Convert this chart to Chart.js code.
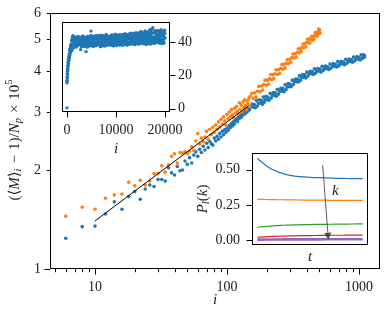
<!DOCTYPE html>
<html>
<head>
<meta charset="utf-8">
<script src="https://cdn.jsdelivr.net/npm/chart.js@4.4.1/dist/chart.umd.min.js"></script>
<style>
  html, body { margin: 0; padding: 0; background: #fff; }
  #wrap { position: relative; width: 388px; height: 322px; }
  #wrap canvas { position: absolute; }
</style>
</head>
<body>
<div id="wrap">
  <canvas id="main" width="388" height="322" style="left:0;top:0"></canvas>
  <canvas id="inset1" width="165" height="150" style="left:40px;top:10px"></canvas>
  <canvas id="inset2" width="182" height="127" style="left:190px;top:138px"></canvas>
</div>
<script>
// ---- main panel: <M>_i scaling, two runs ----
const blueI = [
  6, 8, 10, 12, 14, 16, 18, 20, 22, 24,
  26, 28, 30, 32, 34, 36, 38, 40, 42, 44,
  46, 48, 50, 52, 54, 56, 58, 60, 62, 64,
  66, 68, 70, 72, 74, 76, 78, 80, 82, 84,
  86, 88, 90, 92, 94, 96, 98, 100, 102, 104,
  106, 108, 110, 112, 114, 116, 118, 120, 122, 124,
  126, 128, 130, 132, 134, 136, 138, 140, 142, 144,
  146, 148, 150, 155, 158, 161, 164, 167, 170, 173,
  176, 179, 182, 185, 188, 191, 194, 197, 200, 204,
  208, 212, 216, 220, 224, 228, 232, 236, 240, 245,
  250, 255, 260, 265, 270, 275, 280, 285, 290, 295,
  300, 306, 312, 318, 324, 330, 336, 342, 348, 354,
  360, 367, 374, 381, 388, 395, 402, 410, 418, 426,
  434, 442, 450, 459, 468, 477, 486, 495, 505, 515,
  525, 535, 545, 556, 567, 578, 590, 602, 614, 626,
  638, 651, 664, 677, 690, 704, 718, 732, 747, 762,
  777, 792, 808, 824, 840, 857, 874, 891, 908, 926,
  944, 962, 980, 999, 1018, 1037, 1056, 1070, 1085, 1095,
  1100
];
const blueM = [
  1.24, 1.345, 1.35, 1.47, 1.60, 1.52, 1.66, 1.72, 1.63, 1.75,
  1.80, 1.78, 1.87, 1.87, 1.85, 2.03, 1.96, 1.93, 2.05, 1.99,
  2.00, 2.13, 2.08, 2.18, 2.10, 2.22, 2.27, 2.20, 2.31, 2.26,
  2.36, 2.30, 2.41, 2.34, 2.44, 2.40, 2.38, 2.50, 2.45, 2.53,
  2.48, 2.58, 2.52, 2.62, 2.56, 2.65, 2.60, 2.68, 2.64, 2.73,
  2.69, 2.77, 2.72, 2.80, 2.76, 2.83, 2.86, 2.81, 2.90, 2.87,
  2.93, 2.89, 2.97, 2.94, 3.00, 2.96, 3.03, 2.99, 3.06, 3.02,
  3.09, 3.05, 3.11, 3.17, 3.10, 3.16, 3.09, 3.25, 3.13, 3.19,
  3.27, 3.19, 3.25, 3.17, 3.33, 3.21, 3.27, 3.35, 3.27, 3.33,
  3.26, 3.42, 3.31, 3.37, 3.44, 3.37, 3.43, 3.35, 3.52, 3.40,
  3.47, 3.54, 3.47, 3.54, 3.46, 3.63, 3.51, 3.58, 3.66, 3.58,
  3.65, 3.58, 3.75, 3.64, 3.71, 3.78, 3.71, 3.78, 3.70, 3.87,
  3.75, 3.82, 3.90, 3.82, 3.89, 3.81, 3.97, 3.86, 3.92, 3.99,
  3.92, 3.98, 3.90, 4.06, 3.94, 4.00, 4.07, 3.99, 4.05, 3.97,
  4.13, 4.01, 4.07, 4.14, 4.06, 4.12, 4.04, 4.20, 4.08, 4.14,
  4.21, 4.13, 4.19, 4.11, 4.27, 4.15, 4.21, 4.28, 4.20, 4.26,
  4.18, 4.34, 4.22, 4.28, 4.35, 4.27, 4.33, 4.25, 4.41, 4.29,
  4.35, 4.42, 4.34, 4.40, 4.32, 4.48, 4.36, 4.42, 4.48, 4.40,
  4.45
];
const orangeI = [
  6, 8, 10, 12, 14, 16, 18, 20, 22, 24,
  26, 28, 30, 32, 34, 36, 38, 40, 42, 44,
  46, 48, 50, 52, 54, 56, 58, 60, 62, 64,
  66, 68, 70, 72, 74, 76, 78, 80, 82, 84,
  86, 88, 90, 92, 94, 96, 98, 100, 102, 104,
  106, 108, 110, 112, 114, 116, 118, 120, 122, 124,
  126, 128, 130, 132, 134, 136, 138, 140, 142, 144,
  146, 148, 150, 154, 158, 162, 166, 170, 174, 178,
  182, 186, 190, 194, 198, 202, 206, 210, 214, 218,
  222, 226, 230, 235, 240, 245, 250, 255, 260, 265,
  270, 275, 280, 286, 292, 298, 304, 310, 316, 322,
  328, 334, 340, 346, 352, 358, 364, 370, 376, 382,
  388, 394, 400, 406, 412, 418, 424, 430, 436, 442,
  448, 454, 460, 466, 472, 478, 484, 490, 494, 498,
  502, 505
];
const orangeM = [
  1.446, 1.54, 1.52, 1.64, 1.68, 1.69, 1.835, 1.79, 1.86, 1.80,
  1.85, 1.95, 1.95, 2.06, 1.97, 2.07, 2.20, 2.24, 2.10, 2.26,
  2.25, 2.27, 2.24, 2.28, 2.35, 2.29, 2.45, 2.58, 2.40, 2.50,
  2.44, 2.52, 2.62, 2.48, 2.66, 2.56, 2.70, 2.60, 2.74, 2.66,
  2.80, 2.70, 2.85, 2.76, 2.90, 2.82, 2.74, 2.95, 2.86, 3.00,
  2.91, 3.05, 2.94, 2.88, 3.08, 2.98, 3.12, 3.02, 2.96, 3.20,
  3.06, 3.15, 3.00, 3.22, 3.10, 3.27, 3.14, 3.05, 3.24, 3.18,
  3.30, 3.12, 3.35, 3.42, 3.30, 3.43, 3.33, 3.47, 3.59, 3.46,
  3.60, 3.50, 3.64, 3.75, 3.62, 3.75, 3.65, 3.79, 3.90, 3.76,
  3.89, 3.79, 3.92, 4.03, 3.90, 4.03, 3.93, 4.07, 4.18, 4.05,
  4.18, 4.08, 4.22, 4.33, 4.21, 4.34, 4.25, 4.39, 4.50, 4.38,
  4.51, 4.41, 4.56, 4.67, 4.54, 4.67, 4.58, 4.72, 4.83, 4.71,
  4.84, 4.74, 4.88, 4.99, 4.87, 5.00, 4.86, 4.99, 5.10, 4.96,
  5.09, 4.99, 5.13, 5.23, 5.10, 5.22, 5.12, 5.26, 5.36, 5.21,
  5.33, 5.21
];
const fitI = [10, 145];
const fitM = [1.40, 3.13];
const mainXMajor = [10, 100, 1000];
const mainXMinor = [5, 6, 7, 8, 9, 20, 30, 40, 50, 60, 70, 80, 90, 200, 300, 400, 500, 600, 700, 800, 900];
const mainYTicks = [1, 2, 3, 4, 5, 6];

// ---- upper inset: <M>_i over the whole run ----
const runEarlyI = [0, 10, 25, 40, 55, 70, 90, 110, 130, 150, 175, 200, 230, 260, 300, 340, 380, 420, 460, 500,
  550, 600, 650, 700, 750, 800, 850, 900, 950, 1000, 1050, 1100, 1150, 1200, 1250, 1300, 1350, 1400];
const runEarlyM = [0.4, 15.5, 17, 19, 16.5, 21, 18.5, 22.5, 24, 20.5, 26, 23.5, 28, 25.5, 30, 27, 31.5, 29, 33, 30.5,
  35, 32, 36.5, 33.5, 38, 34.5, 39, 36, 41, 35, 42, 37, 43.5, 38.5, 44, 36.5, 42, 39.5];
const runStep = 100;
const runLateStart = 1500;   // samples at 1500, 1600, ... 20000
const runLateM = [
  40.3, 38.1, 42.7, 39.4, 37.2, 41.8, 40.6, 43.5, 38.8, 41.1,
  42.4, 39.7, 41.5, 35.6, 40.2, 38.3, 42.9, 40.8, 43.8, 39.1,
  37.5, 41.6, 40.1, 42.8, 34.4, 41.3, 38.6, 43.6, 39.5, 42.2,
  40.7, 37.8, 42.5, 41.2, 46.8, 39.3, 43.9, 38.4, 41.9, 37.6,
  41.4, 43.7, 39.2, 42.1, 37.9, 42.6, 40.4, 44.2, 38.5, 41.7,
  42.9, 39.6, 41.8, 37.4, 43.5, 40.2, 42.7, 38.3, 41.1, 44.1,
  39.3, 42.2, 37.7, 43.8, 40.6, 44.7, 38.2, 41.4, 42.9, 39.8,
  41.9, 38.4, 43.6, 40.1, 42.8, 38.9, 41.3, 44.4, 39.2, 42.5,
  37.8, 42.7, 40.5, 44.9, 39.4, 41.6, 38.1, 43.7, 40.9, 38.6,
  42.8, 40.3, 44.6, 38.4, 42.1, 39.5, 43.9, 41.2, 38.2, 44.8,
  40.6, 43.1, 38.7, 41.9, 45.2, 39.4, 41.5, 44.1, 38.3, 42.4,
  44.7, 39.6, 42.8, 40.2, 45.6, 38.9, 41.7, 43.9, 39.3, 41.2,
  45.5, 40.4, 42.9, 38.6, 44.2, 41.1, 45.8, 39.7, 42.3, 44.6,
  38.8, 42.6, 45.9, 40.5, 43.8, 39.2, 46.6, 41.9, 39.4, 44.8,
  41.3, 45.7, 39.1, 43.6, 46.9, 40.2, 42.8, 38.7, 44.9, 41.6,
  46.4, 39.5, 43.7, 41.2, 47.6, 38.9, 44.5, 42.3, 47.8, 40.4,
  48.9, 42.7, 39.3, 45.8, 41.1, 46.7, 43.6, 39.8, 46.9, 42.2,
  44.6, 40.3, 46.8, 42.9, 39.4, 45.7, 41.3, 47.6, 43.8, 39.2,
  46.5, 41.8, 44.7, 39.6, 47.3, 42.6
];
const runMidStart = 1550;    // samples at 1550, 1650, ... 19950
const runMidM = [
  41.5, 39.2, 43.1, 38.0, 40.9, 42.4, 37.9, 41.7, 39.9, 43.3,
  38.7, 41.2, 40.5, 42.0, 37.3, 43.4, 39.0, 41.9, 38.6, 42.6,
  40.0, 43.0, 38.3, 41.0, 39.7, 42.9, 37.1, 40.8, 43.2, 38.9,
  42.3, 39.9, 41.1, 44.0, 38.1, 42.0, 40.7, 37.7, 43.4, 40.2,
  38.8, 41.9, 43.9, 39.5, 42.4, 40.0, 38.6, 42.9, 40.8, 43.6,
  40.1, 42.6, 38.4, 44.3, 39.9, 41.6, 37.8, 43.0, 40.5, 42.1,
  43.2, 38.5, 41.8, 39.4, 42.9, 40.3, 44.0, 39.0, 42.4, 40.7,
  38.6, 43.5, 39.8, 42.3, 40.9, 44.1, 38.2, 42.0, 40.4, 43.3,
  41.0, 38.9, 43.9, 40.2, 42.6, 39.1, 44.4, 41.3, 39.6, 42.8,
  39.4, 43.7, 41.1, 39.9, 44.5, 40.6, 42.2, 38.6, 43.4, 41.0,
  43.8, 39.2, 42.7, 40.8, 38.9, 44.0, 41.9, 39.5, 43.6, 40.1,
  42.2, 44.4, 39.0, 43.1, 41.4, 39.8, 44.8, 40.7, 42.9, 39.3,
  43.5, 41.0, 39.6, 44.9, 42.1, 40.3, 43.9, 41.5, 39.7, 45.2,
  42.0, 40.1, 44.3, 41.7, 39.5, 45.4, 42.6, 40.6, 44.0, 41.3,
  43.9, 40.0, 45.1, 42.4, 39.9, 44.6, 41.8, 46.0, 40.5, 43.4,
  42.1, 45.3, 40.8, 44.2, 39.7, 46.1, 42.9, 41.0, 45.5, 43.2,
  40.6, 45.9, 43.0, 41.4, 47.0, 40.1, 44.4, 42.6, 45.2, 41.7,
  43.5, 47.1, 40.9, 44.8, 42.1, 46.3, 40.5, 44.0, 45.9, 41.6,
  44.3, 40.8, 46.6, 43.1, 45.4
];
const inset1XTicks = [0, 10000, 20000];
const inset1YTicks = [0, 20, 40];

// ---- lower inset: P_l(k) against t ----
const pT = [0, 5, 10, 15, 20, 25, 30, 40, 50, 60, 70, 80, 90, 100];
const pK1 = [0.582, 0.550, 0.522, 0.500, 0.484, 0.472, 0.463, 0.452, 0.447, 0.444, 0.441, 0.439, 0.438, 0.437];
const pK2 = [0.290, 0.290, 0.289, 0.289, 0.288, 0.288, 0.287, 0.286, 0.285, 0.285, 0.284, 0.284, 0.283, 0.283];
const pK3 = [0.093, 0.097, 0.100, 0.103, 0.105, 0.107, 0.108, 0.110, 0.112, 0.113, 0.114, 0.115, 0.116, 0.117];
const pK4 = [0.022, 0.024, 0.026, 0.028, 0.029, 0.030, 0.031, 0.033, 0.034, 0.035, 0.036, 0.036, 0.037, 0.037];
const pK5 = [0.005, 0.005, 0.006, 0.006, 0.006, 0.007, 0.007, 0.007, 0.007, 0.007, 0.008, 0.008, 0.008, 0.008];
const inset2YTicks = [0, 0.25, 0.5];
const arrowFrom = [62, 0.533];
const arrowTo = [67.4, 0.005];
const kLabelAt = [74, 0.35];

const BLUE = '#1f77b4', ORANGE = '#ff7f0e', GREEN = '#2ca02c', RED = '#d62728', PURPLE = '#9467bd';
const SERIF = '"Liberation Serif", "DejaVu Serif", serif';
const INK = '#1a1a1a';

const pts = (xs, ys) => xs.map((x, k) => ({ x: x, y: ys[k] }));

// rich text: [text, style] pieces, numbers are extra gaps in px
function textRun(ctx, parts, size, x0, draw) {
  let x = x0;
  parts.forEach(p => {
    if (typeof p === 'number') { x += p; return; }
    const [t, st] = p;
    const small = st === 'sub' || st === 'sup';
    const fs = small ? size * 0.7 : size;
    ctx.font = (st === 'i' || st === 'sub' ? 'italic ' : '') + fs + 'px ' + SERIF;
    const dy = st === 'sub' ? size * 0.22 : st === 'sup' ? -size * 0.38 : 0;
    if (draw) ctx.fillText(t, x, dy);
    x += ctx.measureText(t).width;
  });
  return x - x0;
}

function drawTitle(ctx, t) {
  ctx.save();
  ctx.translate(t.x, t.y);
  if (t.rot) ctx.rotate(-Math.PI / 2);
  ctx.fillStyle = INK;
  ctx.textBaseline = 'middle';
  ctx.textAlign = 'left';
  const w = textRun(ctx, t.parts, t.size, 0, false);
  textRun(ctx, t.parts, t.size, -w / 2, true);
  ctx.restore();
}

// frame, matplotlib-like tick marks, titles and extras
function decor(cfg) {
  return {
    id: 'decor',
    beforeDraw(chart) {
      const { ctx, chartArea: a } = chart;
      ctx.save();
      ctx.fillStyle = '#fff';
      ctx.fillRect(a.left, a.top, a.right - a.left, a.bottom - a.top);
      ctx.restore();
    },
    afterDatasetsDraw(chart) {
      const { ctx, chartArea: a } = chart;
      ctx.save();
      ctx.strokeStyle = '#000';
      ctx.lineWidth = 1;
      ctx.strokeRect(Math.round(a.left) + 0.5, Math.round(a.top) + 0.5,
        Math.round(a.right - a.left) - 1, Math.round(a.bottom - a.top) - 1);
      cfg.marks.forEach(m => {
        const s = chart.scales[m.scale];
        m.values.forEach(v => {
          const p = Math.round(s.getPixelForValue(v)) + 0.5;
          ctx.beginPath();
          if (s.position === 'bottom') { ctx.moveTo(p, a.bottom); ctx.lineTo(p, a.bottom + m.len); }
          else if (s.position === 'left') { ctx.moveTo(a.left, p); ctx.lineTo(a.left - m.len, p); }
          else { ctx.moveTo(a.right, p); ctx.lineTo(a.right + m.len, p); }
          ctx.stroke();
        });
      });
      ctx.restore();
      if (cfg.extra) cfg.extra(chart);
      cfg.titles(a).forEach(t => drawTitle(ctx, t));
    }
  };
}

function axisOpts(extra) {
  return Object.assign({
    grid: { drawOnChartArea: false, drawTicks: true, tickLength: 5.5, tickColor: 'rgba(0,0,0,0)' },
    border: { display: false },
  }, extra);
}
const tickFont = { family: SERIF, size: 14 };
const base = {
  responsive: false,
  animation: false,
  events: [],
  plugins: { legend: { display: false }, tooltip: { enabled: false } },
};

// main chart
new Chart(document.getElementById('main'), {
  type: 'scatter',
  data: {
    datasets: [
      { data: pts(fitI, fitM), showLine: true, borderColor: '#000', borderWidth: 1, pointRadius: 0, order: 0 },
      { data: pts(orangeI, orangeM), backgroundColor: ORANGE, borderWidth: 0, pointRadius: 1.8, order: 1 },
      { data: pts(blueI, blueM), backgroundColor: BLUE, borderWidth: 0, pointRadius: 1.8, order: 2 },
    ]
  },
  options: Object.assign({}, base, {
    layout: { padding: { top: 13, right: 8, left: 0, bottom: 0 } },
    scales: {
      x: axisOpts({
        type: 'logarithmic', min: 4.56, max: 1440,
        afterFit: s => { s.height = 53; },
        afterBuildTicks: s => { s.ticks = mainXMajor.map(v => ({ value: v })); },
        ticks: { font: tickFont, color: INK, padding: 4.5, maxRotation: 0, autoSkip: false, callback: v => String(v) },
      }),
      y: axisOpts({
        type: 'logarithmic', min: 1, max: 6,
        afterFit: s => { s.width = 50; },
        afterBuildTicks: s => { s.ticks = mainYTicks.map(v => ({ value: v })); },
        ticks: { font: tickFont, color: INK, padding: 3.5, autoSkip: false, callback: v => String(v) },
      }),
    }
  }),
  plugins: [decor({
    marks: [
      { scale: 'x', values: mainXMajor, len: 5.5 },
      { scale: 'x', values: mainXMinor, len: 3.2 },
      { scale: 'y', values: [1], len: 5.5 },
      { scale: 'y', values: [2, 3, 4, 5, 6], len: 3.2 },
    ],
    titles: a => [
      { x: a.left - 35, y: (a.top + a.bottom) / 2 - 1, rot: true, size: 15,
        parts: [['(⟨', 'r'], ['M', 'i'], ['⟩', 'r'], ['i', 'sub'], 5, ['−', 'r'], 5, ['1)/', 'r'],
                ['N', 'i'], ['p', 'sub'], 5, ['×', 'r'], 5, ['10', 'r'], ['5', 'sup']] },
      { x: (a.left + a.right) / 2, y: a.bottom + 31, size: 15, parts: [['i', 'i']] },
    ]
  })]
});

// upper inset
const runI = runEarlyI
  .concat(runLateM.map((_, k) => runLateStart + k * runStep))
  .concat(runMidM.map((_, k) => runMidStart + k * runStep));
const runM = runEarlyM.concat(runLateM, runMidM);
new Chart(document.getElementById('inset1'), {
  type: 'scatter',
  data: { datasets: [{ data: pts(runI, runM), backgroundColor: BLUE, borderWidth: 0, pointRadius: 1.7 }] },
  options: Object.assign({}, base, {
    layout: { padding: { top: 12, right: 0, left: 22, bottom: 0 } },
    scales: {
      x: axisOpts({
        type: 'linear', min: -1000, max: 21000,
        afterFit: s => { s.height = 48; },
        afterBuildTicks: s => { s.ticks = inset1XTicks.map(v => ({ value: v })); },
        ticks: { font: tickFont, color: INK, padding: 4, maxRotation: 0, autoSkip: false, callback: v => String(v) },
      }),
      y: axisOpts({
        type: 'linear', position: 'right', min: -2.1, max: 52.3,
        afterFit: s => { s.width = 35; },
        afterBuildTicks: s => { s.ticks = inset1YTicks.map(v => ({ value: v })); },
        ticks: { font: tickFont, color: INK, padding: 2.5, autoSkip: false, callback: v => String(v) },
      }),
    }
  }),
  plugins: [decor({
    marks: [
      { scale: 'x', values: inset1XTicks, len: 5.5 },
      { scale: 'y', values: inset1YTicks, len: 5.5 },
    ],
    titles: a => [{ x: (a.left + a.right) / 2, y: a.bottom + 37, size: 15, parts: [['i', 'i']] }]
  })]
});

// lower inset
const lineSet = (ys, color, w) => ({ data: pts(pT, ys), borderColor: color, borderWidth: w, pointRadius: 0, tension: 0.4 });
new Chart(document.getElementById('inset2'), {
  type: 'line',
  data: { datasets: [
    lineSet(pK5, PURPLE, 2.6), lineSet(pK4, RED, 1.2), lineSet(pK3, GREEN, 1.2),
    lineSet(pK2, ORANGE, 1.2), lineSet(pK1, BLUE, 1.2),
  ] },
  options: Object.assign({}, base, {
    layout: { padding: { top: 9, right: 4, left: 0, bottom: 0 } },
    scales: {
      x: axisOpts({
        type: 'linear', min: -5, max: 105,
        afterFit: s => { s.height = 20; },
        afterBuildTicks: s => { s.ticks = []; },
        ticks: { display: false },
      }),
      y: axisOpts({
        type: 'linear', min: -0.033, max: 0.62,
        afterFit: s => { s.width = 62; },
        afterBuildTicks: s => { s.ticks = inset2YTicks.map(v => ({ value: v })); },
        ticks: { font: tickFont, color: INK, padding: 6.5, autoSkip: false, callback: v => v.toFixed(2) },
      }),
    }
  }),
  plugins: [decor({
    marks: [{ scale: 'y', values: inset2YTicks, len: 5.5 }],
    extra: chart => {
      const { ctx, scales: { x, y } } = chart;
      const x0 = x.getPixelForValue(arrowFrom[0]), y0 = y.getPixelForValue(arrowFrom[1]);
      const x1 = x.getPixelForValue(arrowTo[0]), y1 = y.getPixelForValue(arrowTo[1]);
      const ang = Math.atan2(y1 - y0, x1 - x0);
      const hl = 7, hw = 3.5;
      const bx = x1 - hl * Math.cos(ang), by = y1 - hl * Math.sin(ang);
      ctx.save();
      ctx.strokeStyle = 'rgba(40,40,40,0.75)';
      ctx.fillStyle = 'rgba(40,40,40,0.8)';
      ctx.lineWidth = 1;
      ctx.beginPath(); ctx.moveTo(x0, y0); ctx.lineTo(bx, by); ctx.stroke();
      ctx.beginPath();
      ctx.moveTo(x1, y1);
      ctx.lineTo(bx + hw * Math.sin(ang), by - hw * Math.cos(ang));
      ctx.lineTo(bx - hw * Math.sin(ang), by + hw * Math.cos(ang));
      ctx.closePath(); ctx.fill();
      ctx.restore();
      drawTitle(ctx, { x: x.getPixelForValue(kLabelAt[0]), y: y.getPixelForValue(kLabelAt[1]), size: 15, parts: [['k', 'i']] });
    },
    titles: a => [
      { x: a.left - 49, y: (a.top + a.bottom) / 2, rot: true, size: 15,
        parts: [['P', 'i'], ['l', 'sub'], ['(', 'r'], ['k', 'i'], [')', 'r']] },
      { x: (a.left + a.right) / 2, y: a.bottom + 12, size: 15, parts: [['t', 'i']] },
    ]
  })]
});
</script>
</body>
</html>
